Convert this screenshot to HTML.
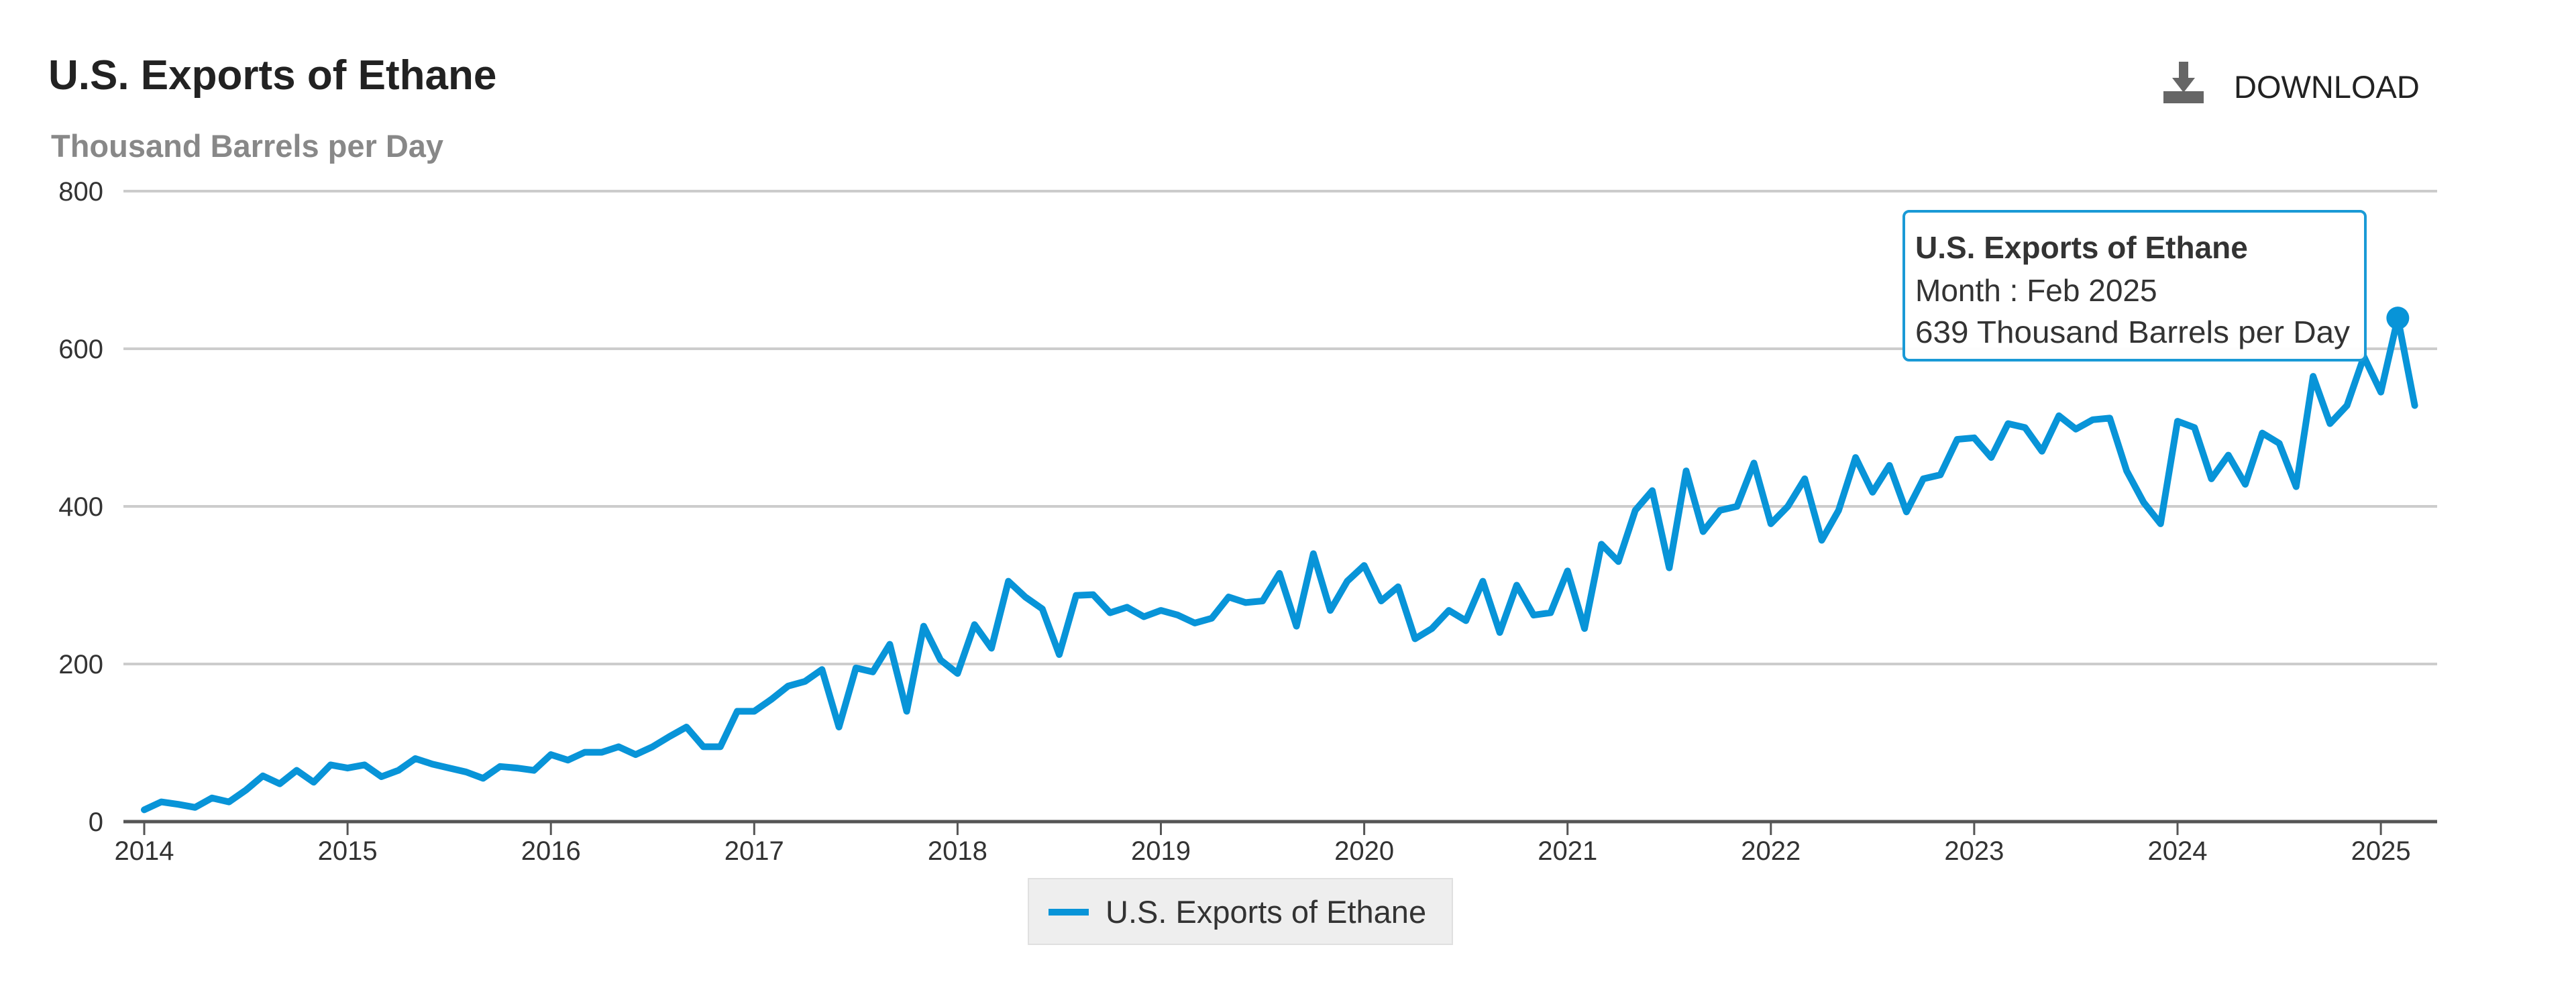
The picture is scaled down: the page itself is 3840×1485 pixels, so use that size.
<!DOCTYPE html>
<html><head><meta charset="utf-8">
<style>
html,body{margin:0;padding:0;background:#fff;}
body{width:3840px;height:1480px;overflow:hidden;font-family:"Liberation Sans",Arial,sans-serif;}
</style></head>
<body>
<svg id="chart" width="3840" height="1480" xmlns="http://www.w3.org/2000/svg" font-family="Liberation Sans, Arial, sans-serif">
  <text x="72" y="133" font-size="62" font-weight="bold" fill="#222">U.S. Exports of Ethane</text>
  <text x="76" y="234" font-size="47" font-weight="bold" fill="#888">Thousand Barrels per Day</text>
  <g>
    <rect x="3225" y="136" width="60" height="18" fill="#666"/>
    <rect x="3248" y="92" width="14" height="30" fill="#666"/>
    <polygon points="3238,116 3272,116 3255,138" fill="#666"/>
    <text x="3330" y="146" font-size="47" fill="#222">DOWNLOAD</text>
  </g>
  <g id="grid"></g>
  <g id="yticks"></g>
  <g id="xaxis"></g>
  <g id="series"></g>
  <g>
    <rect x="2838" y="315" width="688" height="222" rx="8" fill="#fff" fill-opacity="0.95" stroke="#1a9ad6" stroke-width="4"/>
    <text x="2855" y="385" font-size="46" font-weight="bold" fill="#333">U.S. Exports of Ethane</text>
    <text x="2855" y="449" font-size="46" fill="#333">Month : Feb 2025</text>
    <text x="2855" y="511" font-size="46" fill="#333" textLength="648" lengthAdjust="spacingAndGlyphs">639 Thousand Barrels per Day</text>
  </g>
  <g>
    <rect x="1533" y="1310" width="632" height="98" fill="#eeeeee" stroke="#e0e0e0" stroke-width="2"/>
    <line x1="1563" y1="1360" x2="1623" y2="1360" stroke="#0894d8" stroke-width="10"/>
    <text x="1648" y="1376" font-size="47" fill="#333">U.S. Exports of Ethane</text>
  </g>
</svg>
<script>
const yTicks = [0, 200, 400, 600, 800];
const xTickLabels = ["2014","2015","2016","2017","2018","2019","2020","2021","2022","2023","2024","2025"];
const startYear = 2014;
const values = [
 15,25,22,18,30,25,40,58,48,65,50,72,
 68,72,57,65,80,73,68,63,55,70,68,65,
 85,78,88,88,95,85,95,108,120,95,95,140,
 140,155,172,178,193,120,195,190,225,140,248,205,
 188,250,220,305,285,270,212,287,288,265,272,260,
 268,262,252,258,285,278,280,315,248,340,268,305,
 325,280,298,232,245,268,255,305,240,300,262,265,
 318,245,352,330,395,420,322,445,368,395,400,455,
 378,400,435,357,395,462,418,452,393,435,440,485,
 487,462,505,500,470,515,498,510,512,445,405,378,
 508,500,435,465,428,493,480,425,565,505,528,590,
 545,639,528
];
const highlightIndex = 133;

const NS = "http://www.w3.org/2000/svg";
const x0 = 215, yearW = 303.1, plotL = 184, plotR = 3633, yBase = 1225, yTop = 285;
const xScale = i => x0 + (i / 12) * yearW;
const yScale = v => yBase - (v / 800) * (yBase - yTop);
function mk(tag, attrs, parent){ const e=document.createElementNS(NS,tag); for(const k in attrs) e.setAttribute(k,attrs[k]); parent.appendChild(e); return e; }

const grid = document.getElementById('grid');
const yt = document.getElementById('yticks');
yTicks.forEach(v => {
  if (v > 0) {
    const l = mk('line',{x1:plotL,x2:plotR,y1:yScale(v),y2:yScale(v),stroke:'#cccccc','stroke-width':4},grid);
    
    
  }
  const t = mk('text',{x:154,y:yScale(v)+14,'text-anchor':'end','font-size':40,fill:'#333'},yt);
  t.textContent = v;
  
  
});

const xa = document.getElementById('xaxis');
const axl = mk('line',{x1:plotL,x2:plotR,y1:yBase,y2:yBase,stroke:'#555','stroke-width':5},xa);


xTickLabels.forEach((lab, k) => {
  const x = xScale(k * 12);
  const tk = mk('line',{x1:x,x2:x,y1:yBase,y2:yBase+20,stroke:'#555','stroke-width':3},xa);
  
  
  const t = mk('text',{x:x,y:1282,'text-anchor':'middle','font-size':40,fill:'#333'},xa);
  t.textContent = lab;
  
  
});

const s = document.getElementById('series');
const pts = values.map((v,i) => xScale(i).toFixed(1) + ',' + yScale(v).toFixed(1)).join(' ');
const pl = mk('polyline',{points:pts,fill:'none',stroke:'#0894d8','stroke-width':10,'stroke-linejoin':'round','stroke-linecap':'round'},s);


const m = mk('circle',{cx:xScale(highlightIndex),cy:yScale(values[highlightIndex]),r:17,fill:'#0894d8'},s);


</script>
</body></html>
